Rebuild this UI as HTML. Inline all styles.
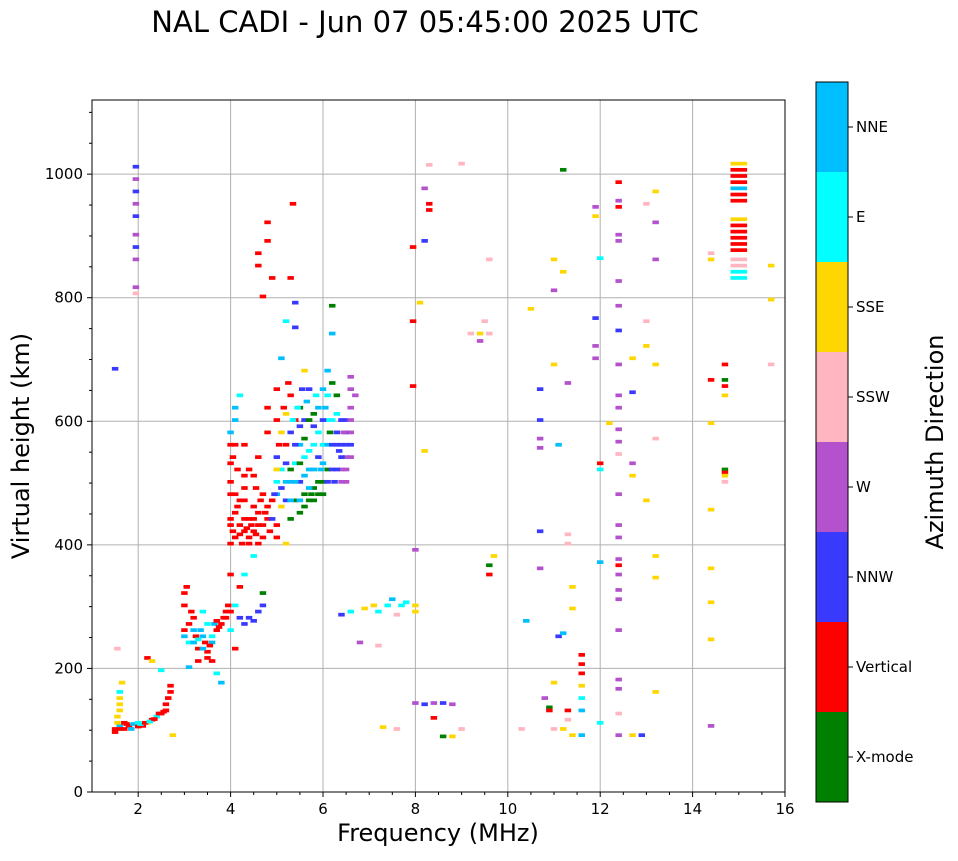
<!DOCTYPE html>
<html><head><meta charset="utf-8"><style>
body{margin:0;background:#fff;font-family:"DejaVu Sans","Liberation Sans",sans-serif}
</style></head><body>
<svg id="chart" width="958" height="857" xmlns="http://www.w3.org/2000/svg" font-family="DejaVu Sans, Liberation Sans, sans-serif">
<text x="425" y="32" font-size="29" text-anchor="middle">NAL CADI - Jun 07 05:45:00 2025 UTC</text>
<g id="grid"></g>
<g id="marks"></g>
<rect x="92" y="100" width="693" height="692" fill="none" stroke="#000" stroke-width="1"/>
<g id="axes"></g>
<text x="438" y="841" font-size="24" text-anchor="middle">Frequency (MHz)</text>
<text transform="translate(29,446) rotate(-90)" font-size="24" text-anchor="middle">Virtual height (km)</text>
<g id="cbar"></g>
<text transform="translate(943,442) rotate(-90)" font-size="24" text-anchor="middle">Azimuth Direction</text>
</svg>
<script>
const dirLabels=["X-mode","Vertical","NNW","W","SSW","SSE","E","NNE"];
const dirColors=["#008000","#ff0000","#3a3aff","#b452cd","#ffb6c1","#ffd700","#00ffff","#00bfff"];
const xTicks=[2,4,6,8,10,12,14,16];
const yTicks=[0,200,400,600,800,1000];
const freqs=[1.5,1.6,1.55,1.6,1.6,1.65,1.7,1.8,1.9,2.0,2.1,2.2,2.3,2.4,2.5,2.6,2.65,2.7,2.2,2.3,2.5,1.55,2.75,
1.95,1.95,1.95,1.95,1.95,1.95,1.95,1.95,1.95,1.95,1.5,
3.0,3.0,3.05,3.1,3.2,3.3,3.4,3.5,3.5,3.6,3.7,3.8,3.9,3.3,3.6,3.2,3.4,3.1,3.8,3.7,
4.0,4.0,4.0,4.0,4.1,4.1,4.1,4.15,4.1,4.1,4.2,4.2,4.3,4.3,4.3,4.3,4.4,4.4,4.4,4.5,4.5,4.5,4.6,4.6,4.6,4.7,4.7,4.8,4.8,4.8,4.6,4.6,4.8,4.8,4.7,4.9,4.2,4.3,4.5,4.7,4.7,4.1,4.0,
5.0,5.0,5.0,5.0,5.0,5.1,5.1,5.1,5.2,5.2,5.2,5.2,5.3,5.3,5.3,5.3,5.4,5.4,5.4,5.5,5.5,5.5,5.5,5.6,5.6,5.6,5.6,5.7,5.7,5.7,5.8,5.8,5.8,5.9,5.9,5.9,6.0,6.0,6.0,6.1,6.1,6.1,6.2,6.2,6.3,6.3,6.4,6.4,6.5,6.5,6.6,6.6,6.5,5.35,5.3,5.4,5.4,5.2,5.0,
6.4,6.6,6.9,7.1,7.2,7.4,7.5,7.7,7.8,8.0,8.0,7.6,6.8,7.2,
8.0,8.2,8.4,8.6,8.8,8.4,8.6,8.8,7.3,7.6,
8.3,8.2,8.3,8.3,7.95,8.2,7.95,8.1,7.95,8.2,8.0,9.0,9.5,9.4,9.2,9.6,9.4,9.6,9.7,9.6,9.6,9.0,10.3,10.4,10.5,10.7,10.7,10.7,10.7,10.7,10.7,10.8,10.9,10.9,11.0,11.0,11.1,11.2,11.3,11.0,11.0,11.0,11.2,11.2,11.3,11.3,11.4,11.4,11.1,11.3,11.3,11.2,11.4,11.6,11.6,11.6,11.6,11.6,11.6,11.6,11.9,11.9,11.9,11.9,11.9,12.0,12.0,12.0,12.0,12.0,12.2,
12.4,12.4,12.4,12.4,12.4,12.4,12.4,12.4,12.4,12.4,12.4,12.4,12.4,12.4,12.4,12.4,12.4,12.4,12.4,12.4,12.4,12.4,12.4,12.4,12.4,12.4,12.4,12.7,12.9,12.7,12.7,12.7,12.7,13.0,13.0,13.0,13.0,13.2,13.2,13.2,13.2,13.2,13.2,13.2,13.2,
14.4,14.4,14.4,14.4,14.4,14.4,14.4,14.4,14.4,14.7,14.7,14.7,14.7,14.7,14.7,14.7,14.7,15.7,15.7,15.7,
15,15,15,15,15,15,15,15,15,15,15,15,15,15,15,15,15,
4.0,4.05,4.1,4.2,4.2,4.25,4.3,4.35,4.4,4.45,4.5,4.55,4.6,4.6,4.65,4.7,4.75,4.8,4.85,4.9,4.9,4.95,4.0,4.0,4.0,4.0,4.0,4.05,4.1,4.3,4.4,4.5,4.55,4.3,4.2,4.15,
5.0,5.0,5.05,5.1,5.1,5.15,5.2,5.2,5.25,5.3,5.3,5.35,5.4,5.4,5.45,5.5,5.5,5.5,5.55,5.6,5.6,5.6,5.65,5.7,5.7,5.7,5.75,5.8,5.8,5.8,5.85,5.9,5.9,5.95,6.0,6.0,6.0,6.05,6.1,6.1,6.1,6.15,6.2,6.2,6.2,6.2,6.25,6.3,6.3,6.3,6.35,6.4,6.4,6.4,6.45,6.5,6.5,6.5,6.6,6.6,6.6,6.6,6.7,6.6,
3.0,3.1,3.15,3.2,3.25,3.3,3.35,3.4,3.45,3.55,3.6,3.65,3.7,3.75,3.85,3.9,3.95,3.5,3.0,1.5,1.6,1.7,1.75,1.85,2.0,2.05,2.15,2.25,2.35,2.45,2.55,2.6,2.7,1.55,1.6,1.6];
const heights=[100,105,120,140,160,175,110,105,108,110,105,110,115,120,125,130,150,160,215,210,195,230,90,
1010,990,970,950,930,900,880,860,815,805,683,
260,300,330,240,260,230,250,225,270,240,260,270,280,210,210,280,290,200,175,190,
290,350,400,430,300,450,480,520,560,600,280,640,270,420,470,510,280,440,400,275,420,460,290,430,540,410,480,440,580,620,870,850,890,920,800,830,330,350,380,320,300,230,260,
430,480,540,600,650,460,520,700,470,560,610,760,440,500,580,640,470,530,600,450,500,560,620,480,540,600,680,470,520,650,490,560,610,480,540,620,500,560,650,520,600,680,740,785,560,640,520,600,540,580,620,670,500,950,830,790,750,400,410,
285,290,295,300,290,300,310,300,305,300,290,285,240,235,
142,140,142,142,140,118,88,88,103,100,
1013,975,950,940,880,890,760,790,655,550,390,1015,760,740,740,740,728,860,380,365,350,100,100,275,780,650,600,570,555,420,360,150,135,130,175,100,250,255,660,690,810,860,1005,840,400,415,330,295,560,130,115,100,90,90,130,150,170,190,205,220,945,930,765,720,700,862,530,520,370,110,595,
985,955,945,900,890,825,785,745,690,640,620,585,565,545,480,430,410,375,365,350,325,310,260,180,165,125,90,90,90,700,645,530,510,950,760,720,470,970,920,860,690,570,380,345,160,
870,860,665,595,455,360,305,245,105,690,665,655,640,520,515,510,500,850,795,690,
1015,1005,995,985,975,965,955,925,915,905,895,885,875,860,850,840,830,
440,420,410,430,415,400,440,425,410,430,440,415,400,450,470,430,450,460,420,440,470,480,480,500,530,560,580,540,620,560,520,510,490,490,470,460,
500,520,560,490,580,620,500,530,660,470,520,600,500,560,620,470,530,590,650,460,510,570,630,490,550,600,480,470,520,590,640,500,580,520,480,530,600,620,500,560,640,580,520,560,600,660,500,520,580,610,550,500,540,560,580,520,600,560,540,560,580,600,640,650,
250,270,290,240,250,245,260,230,240,235,250,270,275,265,280,290,300,215,320,95,100,100,108,100,104,108,110,112,116,125,128,140,170,110,130,150];
const dirs=[1,7,5,5,6,5,1,1,7,6,1,5,1,6,1,1,1,1,1,5,6,4,5,
2,3,2,3,2,3,2,3,3,4,2,
1,1,1,6,7,1,7,1,6,7,1,1,1,1,1,1,6,7,7,6,
1,1,1,1,6,1,1,1,1,7,2,6,2,1,1,1,2,1,1,2,1,1,2,1,1,1,1,1,1,1,1,1,1,1,1,1,1,6,6,0,2,1,6,
1,7,2,1,1,5,6,7,2,1,5,6,0,7,2,1,0,6,1,0,2,7,0,0,6,2,5,0,7,2,0,6,0,0,2,7,0,6,7,0,6,7,7,0,2,0,3,2,3,2,3,3,3,1,1,2,2,5,1,
2,6,5,5,6,6,7,6,6,5,5,4,3,4,
3,2,3,2,3,1,0,5,5,4,
4,3,1,1,1,2,1,5,1,5,3,4,4,5,4,4,3,4,5,0,1,4,4,7,5,2,2,3,3,2,3,3,0,1,5,4,2,7,3,5,3,5,0,5,4,4,5,5,7,1,4,5,5,7,7,6,5,1,1,1,3,5,2,3,3,6,1,6,7,6,5,
1,3,1,3,3,3,3,2,3,3,3,3,3,4,3,3,3,3,1,3,3,3,3,3,3,4,3,5,2,5,2,3,5,4,4,5,5,5,3,3,5,4,5,5,5,
4,5,1,5,5,5,5,5,3,1,0,1,5,0,1,5,4,5,5,4,
5,1,1,1,7,1,1,5,1,1,1,1,1,4,4,6,6,
1,1,1,1,1,1,1,1,1,1,1,1,1,1,1,1,1,1,1,2,1,2,1,1,1,1,7,1,7,1,1,1,1,1,1,1,
6,5,1,2,5,1,7,2,1,7,0,6,7,2,6,7,0,2,2,0,7,0,7,7,6,0,0,0,7,2,6,0,6,7,0,7,2,7,2,7,6,0,2,2,6,0,2,2,2,6,2,3,2,2,3,3,2,2,3,2,3,3,3,3,
7,1,1,7,1,6,7,7,1,1,6,7,1,1,1,1,1,1,1,1,1,1,1,7,1,6,1,6,1,1,1,1,1,5,5,5];
const NS="http://www.w3.org/2000/svg";
const X0=92,X1=785,Y0=792,Y1=100,FMIN=1,FMAX=16,HMAX=1120;
const xs=f=>X0+(f-FMIN)/(FMAX-FMIN)*(X1-X0);
const ys=h=>Y0-h/HMAX*(Y0-Y1);
function mk(tag,attrs,parent){const e=document.createElementNS(NS,tag);for(const k in attrs)e.setAttribute(k,attrs[k]);parent.appendChild(e);return e;}
const grid=document.getElementById('grid'),axes=document.getElementById('axes'),marks=document.getElementById('marks'),cbar=document.getElementById('cbar');
xTicks.forEach(t=>{const x=xs(t);
 const g=mk('line',{x1:x,x2:x,y1:Y1,y2:Y0,stroke:'#b0b0b0','stroke-width':1},grid);
 
 
 mk('line',{x1:x,x2:x,y1:Y0,y2:Y0+5,stroke:'#000'},axes);
 const tx=mk('text',{x:x,y:Y0+22,'font-size':15,'text-anchor':'middle'},axes);tx.textContent=t;
 
 
});
for(let f=1.5;f<16;f+=0.5){if(f%2===0)continue;mk('line',{x1:xs(f),x2:xs(f),y1:Y0,y2:Y0+3,stroke:'#000'},axes);}
yTicks.forEach(t=>{const y=ys(t);
 const g=mk('line',{x1:X0,x2:X1,y1:y,y2:y,stroke:'#b0b0b0','stroke-width':1},grid);
 
 
 mk('line',{x1:X0-5,x2:X0,y1:y,y2:y,stroke:'#000'},axes);
 const tx=mk('text',{x:X0-9,y:y+5,'font-size':15,'text-anchor':'end'},axes);tx.textContent=t;
 
 
});
for(let h=50;h<HMAX;h+=50){if(h%200===0)continue;mk('line',{x1:X0-3,x2:X0,y1:ys(h),y2:ys(h),stroke:'#000'},axes);}
const n=Math.min(freqs.length,heights.length,dirs.length);
for(let i=0;i<n;i++){
 const f=freqs[i],h=heights[i],d=dirs[i];
 const w=f===15?0.36:0.14;
 const r=mk('rect',{x:xs(f-w/2),y:ys(h+5),width:xs(f+w/2)-xs(f-w/2),height:ys(h-1)-ys(h+5),fill:dirColors[d]},marks);
 
 
}
const CB0=82,CBH=90;
dirLabels.forEach((lab,i)=>{const y=CB0+(7-i)*CBH;
 const r=mk('rect',{x:816,y:y,width:32,height:CBH,fill:dirColors[i]},cbar);
 
 
 mk('line',{x1:848,x2:853,y1:y+CBH/2,y2:y+CBH/2,stroke:'#000'},cbar);
 const t=mk('text',{x:856,y:y+CBH/2+5,'font-size':15},cbar);t.textContent=lab;
 
 
});
const fr=mk('rect',{x:816,y:CB0,width:32,height:CBH*8,fill:'none',stroke:'#000'},cbar);


</script>
</body></html>
